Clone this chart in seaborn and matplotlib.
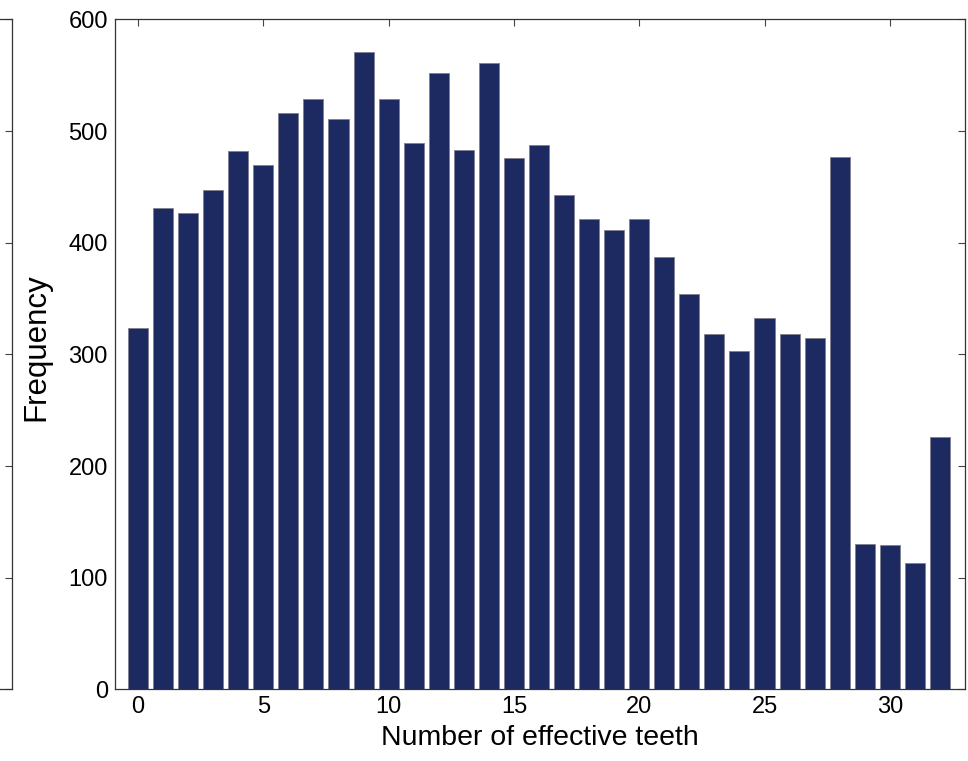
import matplotlib
matplotlib.use("Agg")
import matplotlib.pyplot as plt
import seaborn as sns
import pandas as pd

teeth = list(range(33))
frequency = [324, 431, 427, 447, 482, 470, 516, 529, 511, 571, 529,
             489, 552, 483, 561, 476, 488, 443, 421, 411, 421,
             387, 354, 318, 303, 333, 318, 315, 477, 130, 129, 113, 226]
xticks = [0, 5, 10, 15, 20, 25, 30]
yticks = [0, 100, 200, 300, 400, 500, 600]

sns.set_style("white")
plt.rcParams['font.family'] = ['Liberation Sans', 'DejaVu Sans']
plt.rcParams['text.color'] = 'black'
plt.rcParams['axes.labelcolor'] = 'black'
plt.rcParams['xtick.color'] = 'black'
plt.rcParams['ytick.color'] = 'black'

W, H = 968, 761
fig = plt.figure(figsize=(W / 100, H / 100), dpi=100)
L, R, T, B = 114.7, 965, 19.5, 689.3
ax = fig.add_axes([L / W, 1 - B / H, (R - L) / W, (B - T) / H])

df = pd.DataFrame({"teeth": teeth, "freq": frequency})
sns.barplot(data=df, x="teeth", y="freq", native_scale=True, color="#1d2a62",
            saturation=1, width=0.8, edgecolor="#7f8090", linewidth=0.6, ax=ax)

ax.set_xlim(-0.93, 33.0)
ax.set_ylim(0, 600)
ax.set_xticks(xticks)
ax.set_xticklabels([str(t) for t in xticks])
ax.set_yticks(yticks)
ax.set_yticklabels([str(t) for t in yticks])
ax.tick_params(direction="in", length=5, width=0.8, color="#444444",
               labelsize=17, labelcolor="black", top=True, right=True, pad=5)
for s in ax.spines.values():
    s.set_visible(True)
    s.set_color("#333333")
    s.set_linewidth(0.9)
ax.set_xlabel("Number of effective teeth", fontsize=20.5, labelpad=5, color="black")
ax.set_ylabel("Frequency", fontsize=22.5, color="black")
ax.yaxis.set_label_coords(-0.075, 0.511)

# partial neighbouring panel at the left edge
ax2 = fig.add_axes([-0.5, 1 - B / H, 0.5 + 12.3 / W, (B - T) / H])
ax2.set_ylim(0, 600)
ax2.set_xlim(0, 1)
ax2.set_xticks([])
ax2.set_yticks(yticks)
ax2.tick_params(axis="y", direction="in", length=5, width=0.8, color="#444444",
                left=False, right=True, labelleft=False, labelright=False)
for s in ax2.spines.values():
    s.set_visible(True)
    s.set_color("#333333")
    s.set_linewidth(0.9)

fig.savefig("out.png", dpi=100)
